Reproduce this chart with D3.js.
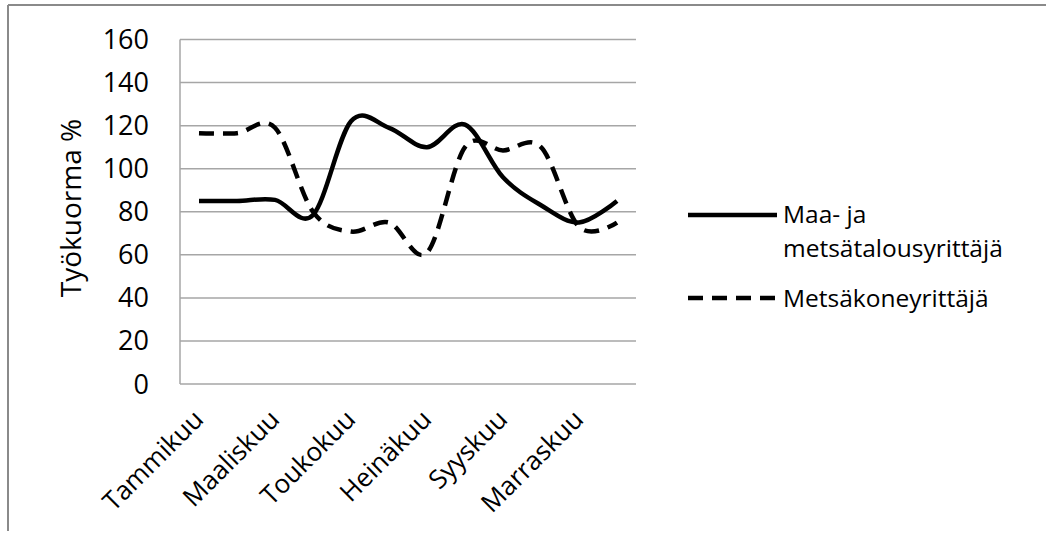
<!DOCTYPE html>
<html>
<head>
<meta charset="utf-8">
<script src="https://cdn.jsdelivr.net/npm/d3@7"></script>
<style>
  html, body { margin: 0; padding: 0; background: #fff; }
  svg { display: block; }
  text { font-family: "Open Sans", "Noto Sans", sans-serif; fill: #000; }
</style>
</head>
<body>
<svg id="chart" width="1046" height="533"></svg>
<script>
const months = ["Tammikuu","Helmikuu","Maaliskuu","Huhtikuu","Toukokuu","Kesäkuu",
                "Heinäkuu","Elokuu","Syyskuu","Lokakuu","Marraskuu","Joulukuu"];
const shownLabels = ["Tammikuu","Maaliskuu","Toukokuu","Heinäkuu","Syyskuu","Marraskuu"];
const seriesNames = ["Maa- ja metsätalousyrittäjä", "Metsäkoneyrittäjä"];
const maaJaMetsa = [85, 85, 85.5, 78.5, 122, 119, 110, 120.5, 96, 83, 75, 85];
const metsakone = [116.5, 116.5, 119, 80, 70.8, 75, 61, 110, 108.5, 110, 73, 75];
const yTicks = [0, 20, 40, 60, 80, 100, 120, 140, 160];
const yTitle = "Työkuorma %";

const svg = d3.select("#chart");

// outer frame (top and left edges visible)
svg.append("line").attr("x1", 8).attr("x2", 1046).attr("y1", 5).attr("y2", 5)
  .attr("stroke", "#8a8a8a").attr("stroke-width", 2);
svg.append("line").attr("x1", 8).attr("x2", 8).attr("y1", 5).attr("y2", 531)
  .attr("stroke", "#8a8a8a").attr("stroke-width", 2);

const x = d3.scaleBand().domain(months).range([180, 636]);
const y = d3.scaleLinear().domain([0, 160]).range([384, 39.5]);
const cx = m => x(m) + x.bandwidth() / 2;

// gridlines
svg.append("g").selectAll("line").data(yTicks).join("line")
  .attr("x1", 180).attr("x2", 636)
  .attr("y1", d => y(d)).attr("y2", d => y(d))
  .attr("stroke", "#a6a6a6").attr("stroke-width", 1.5);

// y axis line
svg.append("line").attr("x1", 180).attr("x2", 180)
  .attr("y1", y(160)).attr("y2", y(0))
  .attr("stroke", "#a6a6a6").attr("stroke-width", 1.5);

// y tick labels
svg.append("g").selectAll("text").data(yTicks).join("text")
  .attr("x", 149).attr("y", d => y(d) + 9.5)
  .attr("text-anchor", "end")
  .attr("font-size", 27)
  .text(d => d);

// y title
svg.append("text")
  .attr("transform", "translate(81,208) rotate(-90)")
  .attr("text-anchor", "middle")
  .attr("font-size", 28)
  .text(yTitle);

// x tick labels
svg.append("g").selectAll("text").data(shownLabels).join("text")
  .attr("transform", d => `translate(${cx(d) + 6},421) rotate(-45)`)
  .attr("text-anchor", "end")
  .attr("font-size", 26)
  .text(d => d);

// lines
const line = d3.line()
  .x((d, i) => cx(months[i]))
  .y(d => y(d))
  .curve(d3.curveCatmullRom.alpha(0));

svg.append("path").datum(metsakone)
  .attr("d", line).attr("fill", "none")
  .attr("stroke", "#000").attr("stroke-width", 4.5)
  .attr("stroke-dasharray", "15,9");

svg.append("path").datum(maaJaMetsa)
  .attr("d", line).attr("fill", "none")
  .attr("stroke", "#000").attr("stroke-width", 4.5);

// legend
const lg = svg.append("g");
lg.append("line").attr("x1", 688).attr("x2", 777).attr("y1", 215).attr("y2", 215)
  .attr("stroke", "#000").attr("stroke-width", 4.5);
lg.append("text").attr("x", 783).attr("y", 223).attr("font-size", 24.5).text("Maa- ja");
lg.append("text").attr("x", 783).attr("y", 256.5).attr("font-size", 24.5).text("metsätalousyrittäjä");
lg.append("line").attr("x1", 688).attr("x2", 777).attr("y1", 298).attr("y2", 298)
  .attr("stroke", "#000").attr("stroke-width", 4.5)
  .attr("stroke-dasharray", "15,9");
lg.append("text").attr("x", 783).attr("y", 306.5).attr("font-size", 24.5).text(seriesNames[1]);
</script>
</body>
</html>
